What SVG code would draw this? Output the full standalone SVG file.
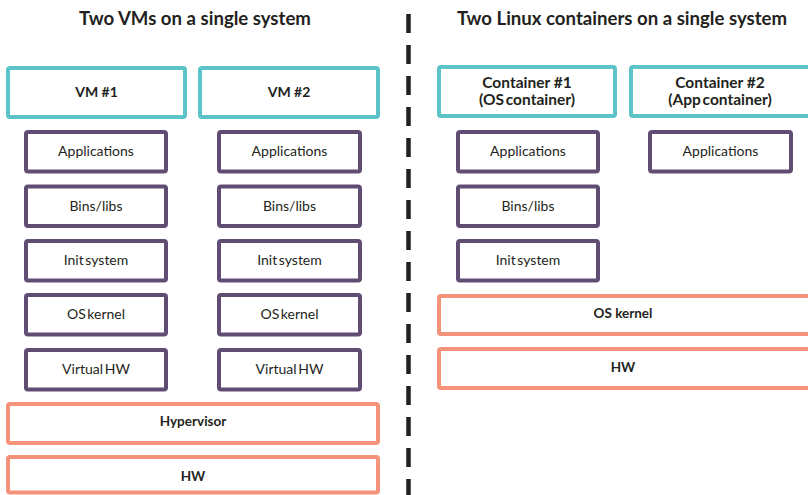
<svg xmlns="http://www.w3.org/2000/svg" width="808" height="495" viewBox="0 0 808 495">
<style>
.bg{fill:#ffffff}
rect.t{fill:#fff;stroke:#5cc3c9;stroke-width:4}
rect.p{fill:#fff;stroke:#614c74;stroke-width:4}
rect.o{fill:#fff;stroke:#f4937a;stroke-width:4}
text{font-family:Lato,"Open Sans","Liberation Sans",sans-serif;fill:#231f20;text-anchor:middle}
.title{font-size:18.6px;font-weight:700}
.b{font-size:14px;font-weight:700}
.c{font-size:15.5px;font-weight:700}
.tight{word-spacing:-2px}
.r{font-size:14px;font-weight:400;word-spacing:-2px}
.bs{font-size:13.5px;font-weight:700}
</style>
<rect class="bg" x="0" y="0" width="808" height="495"/>
<g id="titles">
<text class="title" x="195" y="25">Two VMs on a single system</text>
<text class="title" x="622" y="25">Two Linux containers on a single system</text>
</g>
<g id="connectors">
<line x1="408.5" y1="14" x2="408.5" y2="495" stroke="#231f20" stroke-width="4.5" stroke-dasharray="19 12"/>
</g>
<g id="vm1"><rect class="t" x="8" y="68" width="177" height="49" rx="2"/><text class="b" x="96.5" y="97">VM #1</text></g>
<g id="vm2"><rect class="t" x="200" y="68" width="178" height="49" rx="2"/><text class="b" x="289" y="97">VM #2</text></g>
<g id="vm1-apps"><rect class="p" x="26" y="132" width="140" height="39.5" rx="2"/><text class="r" x="96" y="156">Applications</text></g>
<g id="vm1-bins"><rect class="p" x="26" y="186.5" width="140" height="39.5" rx="2"/><text class="r" x="96" y="210.5">Bins/libs</text></g>
<g id="vm1-init"><rect class="p" x="26" y="241" width="140" height="39.5" rx="2"/><text class="r" x="96" y="265">Init system</text></g>
<g id="vm1-kernel"><rect class="p" x="26" y="295" width="140" height="39.5" rx="2"/><text class="r" x="96" y="319">OS kernel</text></g>
<g id="vm1-vhw"><rect class="p" x="26" y="350" width="140" height="39.5" rx="2"/><text class="r" x="96" y="374">Virtual HW</text></g>
<g id="vm2-apps"><rect class="p" x="219" y="132" width="141" height="39.5" rx="2"/><text class="r" x="289.5" y="156">Applications</text></g>
<g id="vm2-bins"><rect class="p" x="219" y="186.5" width="141" height="39.5" rx="2"/><text class="r" x="289.5" y="210.5">Bins/libs</text></g>
<g id="vm2-init"><rect class="p" x="219" y="241" width="141" height="39.5" rx="2"/><text class="r" x="289.5" y="265">Init system</text></g>
<g id="vm2-kernel"><rect class="p" x="219" y="295" width="141" height="39.5" rx="2"/><text class="r" x="289.5" y="319">OS kernel</text></g>
<g id="vm2-vhw"><rect class="p" x="219" y="350" width="141" height="39.5" rx="2"/><text class="r" x="289.5" y="374">Virtual HW</text></g>
<g id="hypervisor"><rect class="o" x="8" y="404" width="370" height="39" rx="2"/><text class="bs" x="193" y="426">Hypervisor</text></g>
<g id="hw-left"><rect class="o" x="8" y="457" width="370" height="35.5" rx="2"/><text class="bs" x="193" y="481">HW</text></g>
<g id="container1"><rect class="t" x="439" y="67" width="176" height="49" rx="2"/><text class="c" x="527" y="88">Container #1</text><text class="c tight" x="527" y="105">(OS container)</text></g>
<g id="container2"><rect class="t" x="631" y="67" width="180" height="49" rx="2"/><text class="c" x="720" y="88">Container #2</text><text class="c tight" x="720" y="105">(App container)</text></g>
<g id="c1-apps"><rect class="p" x="458" y="132" width="140" height="39.5" rx="2"/><text class="r" x="528" y="156">Applications</text></g>
<g id="c1-bins"><rect class="p" x="458" y="186.5" width="140" height="39.5" rx="2"/><text class="r" x="528" y="210.5">Bins/libs</text></g>
<g id="c1-init"><rect class="p" x="458" y="241" width="140" height="39.5" rx="2"/><text class="r" x="528" y="265">Init system</text></g>
<g id="c2-apps"><rect class="p" x="650" y="132" width="141" height="39.5" rx="2"/><text class="r" x="720.5" y="156">Applications</text></g>
<g id="kernel-right"><rect class="o" x="439" y="296" width="372" height="38" rx="2"/><text class="bs" x="623" y="318">OS kernel</text></g>
<g id="hw-right"><rect class="o" x="439" y="349" width="372" height="39" rx="2"/><text class="bs" x="623" y="372">HW</text></g>
</svg>
